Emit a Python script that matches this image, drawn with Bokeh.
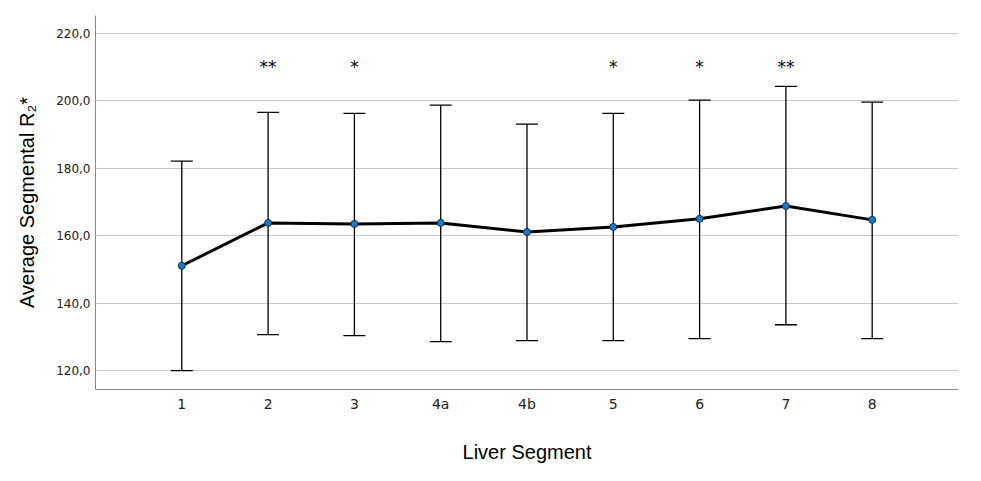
from bokeh.plotting import figure
from bokeh.models import ColumnDataSource, FixedTicker, Whisker, TeeHead
from bokeh.core.properties import value
from bokeh.embed import file_html
from bokeh.resources import INLINE

segments = ["1", "2", "3", "4a", "4b", "5", "6", "7", "8"]
means = [151.1, 163.8, 163.5, 163.8, 161.1, 162.6, 165.0, 168.8, 164.7]
upper = [182.1, 196.6, 196.3, 198.7, 193.1, 196.3, 200.2, 204.3, 199.6]
lower = [120.0, 130.7, 130.4, 128.6, 128.9, 128.9, 129.5, 133.6, 129.5]
sig = ["", "**", "*", "", "", "*", "*", "**", ""]
sig_y = 210.0
y_ticks = [120, 140, 160, 180, 200, 220]

xs = list(range(1, len(segments) + 1))
src = ColumnDataSource(dict(x=xs, m=means, u=upper, l=lower, s=sig, sy=[sig_y] * len(xs)))

p = figure(width=965, height=465, x_range=(0, 10), y_range=(114.4, 225.3),
           output_backend="svg", toolbar_location=None,
           min_border_left=95, min_border_right=7, min_border_top=15, min_border_bottom=75)
p.outline_line_color = None
p.background_fill_color = "white"

w = Whisker(source=src, base="x", upper="u", lower="l", line_color="black", line_width=1.3,
            upper_head=TeeHead(size=22, line_color="black", line_width=1.3),
            lower_head=TeeHead(size=22, line_color="black", line_width=1.3))
p.add_layout(w)

p.line("x", "m", source=src, line_color="black", line_width=3)
p.scatter("x", "m", source=src, size=7, fill_color="#1a7ac8", line_color="#10304a", line_width=1)

p.text("x", "sy", text="s", source=src, text_align="center", text_baseline="middle",
       text_font=value("DejaVu Sans"), text_font_size="17px", text_color="black")

p.xgrid.grid_line_color = None
p.ygrid.grid_line_color = "#c8c8c8"
p.ygrid.grid_line_width = 1.2

for ax in (p.xaxis, p.yaxis):
    ax.major_tick_line_color = None
    ax.minor_tick_line_color = None
    ax.major_tick_out = 0
    ax.major_tick_in = 0
    ax.minor_tick_out = 0
    ax.axis_line_color = "#888888"
    ax.major_label_text_font = "DejaVu Sans"
    ax.major_label_text_color = "#222222"
    ax.axis_label_text_font = "Liberation Sans"
    ax.axis_label_text_font_style = "normal"
    ax.axis_label_text_font_size = "20px"
    ax.axis_label_text_color = "black"

p.xaxis.ticker = FixedTicker(ticks=xs)
p.xaxis.major_label_overrides = {x: s for x, s in zip(xs, segments)}
p.xaxis.major_label_text_font_size = "14px"
p.xaxis.major_label_standoff = 6
p.xaxis.axis_label = "Liver Segment"
p.xaxis.axis_label_standoff = 26

p.yaxis.ticker = FixedTicker(ticks=y_ticks)
p.yaxis.major_label_overrides = {t: f"{t},0" for t in y_ticks}
p.yaxis.major_label_text_font_size = "12px"
p.yaxis.major_label_standoff = 5
p.yaxis.axis_label = "Average Segmental R₂*"
p.yaxis.axis_label_standoff = 15

open("out.html", "w").write(file_html(p, INLINE))
